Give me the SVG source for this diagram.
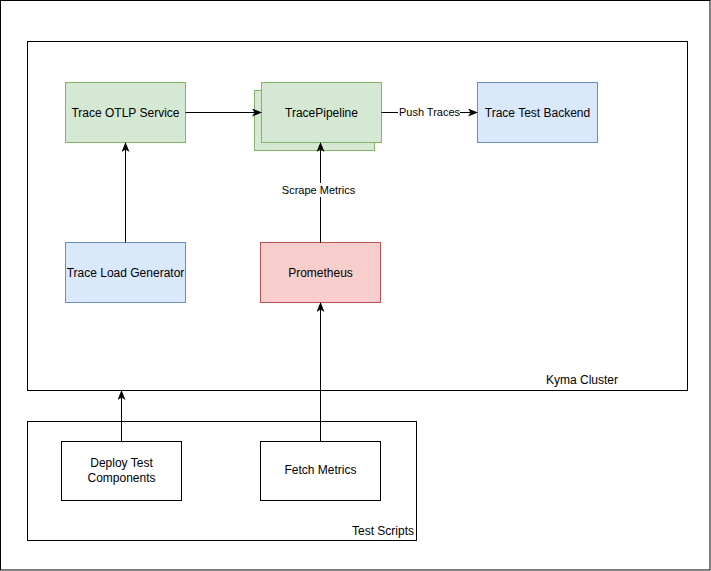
<svg xmlns="http://www.w3.org/2000/svg" width="711" height="571" viewBox="0 0 711 571">
<defs>
<style>
text{font-family:"Liberation Sans",Arial,Helvetica,sans-serif;font-size:12px;fill:#000}
.lbl{font-size:11px}
.plain{fill:#fff;stroke:#000;stroke-width:1}
.green{fill:#d5e8d4;stroke:#82b366;stroke-width:1}
.blue{fill:#dae8fc;stroke:#6c8ebf;stroke-width:1}
.red{fill:#f8cecc;stroke:#b85450;stroke-width:1}
.edge{fill:none;stroke:#000;stroke-width:1;marker-end:url(#arr)}
</style>
<marker id="arr" viewBox="0 0 10 8" refX="9" refY="4" markerWidth="10" markerHeight="8" markerUnits="userSpaceOnUse" orient="auto">
<path d="M0,0 L10,4 L0,8 L2.5,4 Z" fill="#000"/>
</marker>
</defs>
<rect x="0" y="0" width="711" height="571" fill="#fff"/>
<rect x="0.5" y="0.5" width="709.5" height="569.5" fill="none" stroke="#000"/>

<g id="kyma-cluster">
<rect class="plain" x="27.5" y="41.5" width="660" height="349"/>
<text x="618" y="384" text-anchor="end">Kyma Cluster</text>
</g>
<g id="test-scripts">
<rect class="plain" x="27.5" y="421.5" width="389" height="119"/>
<text x="414" y="535" text-anchor="end">Test Scripts</text>
</g>

<g id="trace-otlp-service">
<rect class="green" x="65.5" y="82.5" width="120" height="60"/>
<text x="125.5" y="116.5" text-anchor="middle">Trace OTLP Service</text>
</g>
<g id="trace-load-generator">
<rect class="blue" x="65.5" y="242.5" width="120" height="60"/>
<text x="125.5" y="276.5" text-anchor="middle">Trace Load Generator</text>
</g>
<g id="tracepipeline">
<rect class="green" x="254.5" y="90.5" width="120" height="60"/>
<rect class="green" x="261.5" y="82.5" width="120" height="60"/>
<text x="321.5" y="116.5" text-anchor="middle">TracePipeline</text>
</g>
<g id="trace-test-backend">
<rect class="blue" x="477.5" y="82.5" width="120" height="60"/>
<text x="537.5" y="116.5" text-anchor="middle">Trace Test Backend</text>
</g>
<g id="prometheus">
<rect class="red" x="260.5" y="242.5" width="120" height="60"/>
<text x="320.5" y="276.5" text-anchor="middle">Prometheus</text>
</g>
<g id="deploy-test-components">
<rect class="plain" x="61.5" y="441.5" width="120" height="59"/>
<text x="121.5" y="467" text-anchor="middle">Deploy Test</text>
<text x="121.5" y="482" text-anchor="middle">Components</text>
</g>
<g id="fetch-metrics">
<rect class="plain" x="260.5" y="441.5" width="120" height="59"/>
<text x="320.5" y="474" text-anchor="middle">Fetch Metrics</text>
</g>

<g id="connectors">
<path class="edge" d="M185.5,112.5 L261,112.5"/>
<path class="edge" d="M381.5,112.5 L477,112.5"/>
<rect x="398" y="105" width="62" height="14" fill="#fff"/>
<text class="lbl" x="429.5" y="116" text-anchor="middle">Push Traces</text>
<path class="edge" d="M125.5,242.5 L125.5,143"/>
<path class="edge" d="M320.5,242.5 L320.5,143"/>
<rect x="280" y="183" width="78" height="14" fill="#fff"/>
<text class="lbl" x="318.5" y="194" text-anchor="middle">Scrape Metrics</text>
<path class="edge" d="M121.5,441.5 L121.5,391"/>
<path class="edge" d="M320.5,441.5 L320.5,303"/>
</g>
</svg>
